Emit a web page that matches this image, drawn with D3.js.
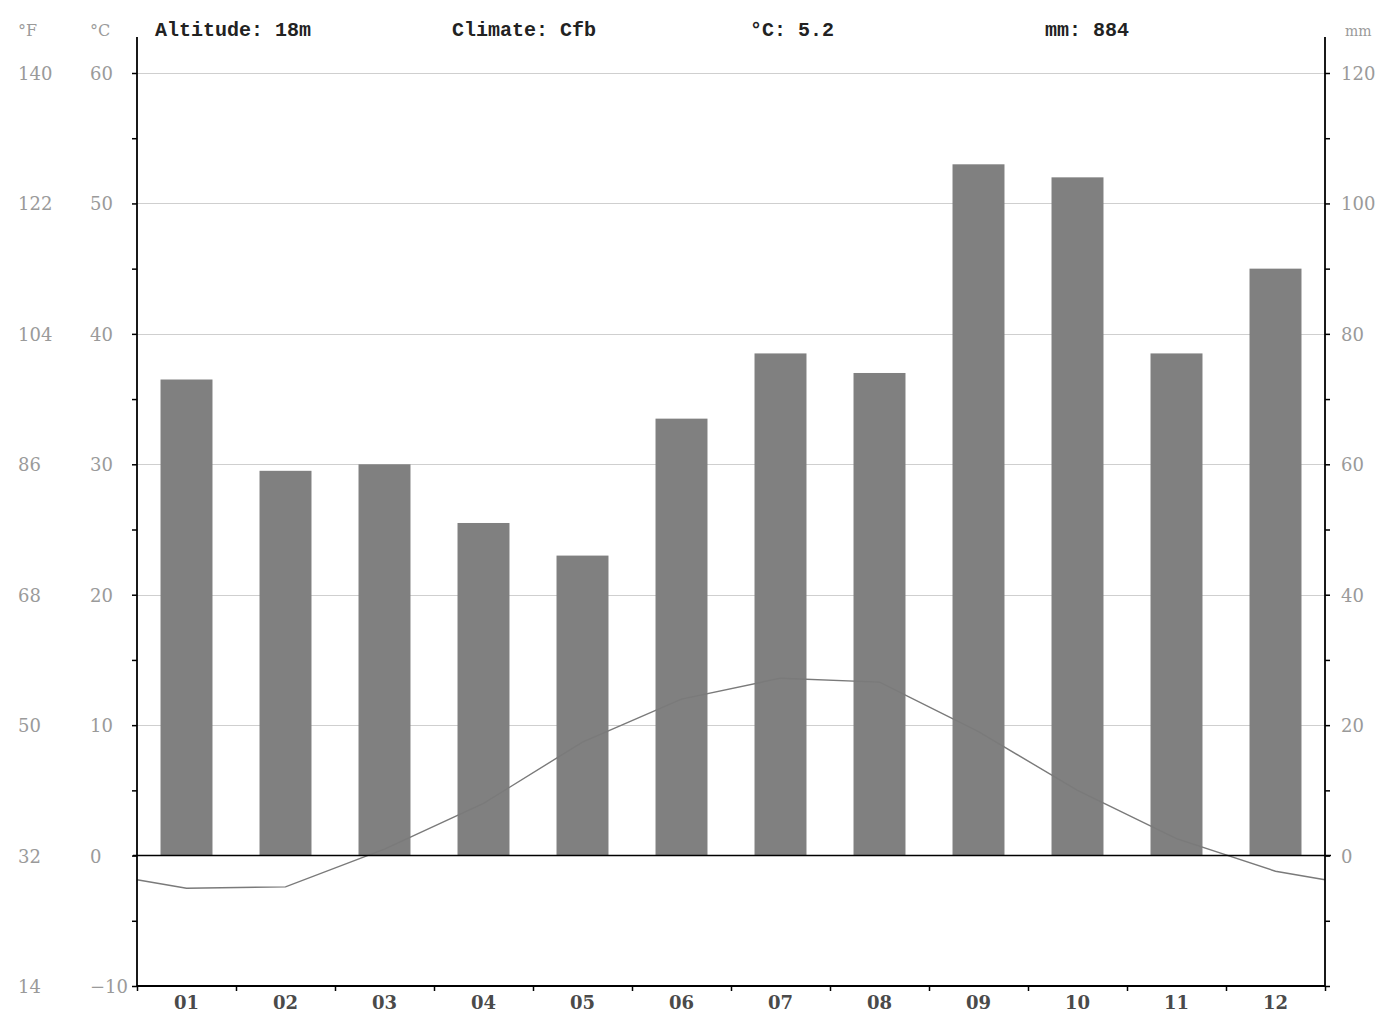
<!DOCTYPE html>
<html>
<head>
<meta charset="utf-8">
<script src="https://cdn.jsdelivr.net/npm/d3@7"></script>
<style>
  body { margin: 0; background: #fff; }
  .tick-lbl { font-family: 'DejaVu Serif', serif; font-size: 18px; fill: #9a9a9a; }
  .month-lbl { font-family: 'DejaVu Serif', serif; font-size: 18px; font-weight: bold; fill: #4a4a4a; }
  .head { font-family: 'Liberation Mono', monospace; font-size: 20px; font-weight: bold; fill: #222; }
</style>
</head>
<body>
<svg id="chart" width="1388" height="1014"></svg>
<script>
const months = ['01', '02', '03', '04', '05', '06', '07', '08', '09', '10', '11', '12'];
const precipitation = [73, 59, 60, 51, 46, 67, 77, 74, 106, 104, 77, 90];
const temperature = [-2.5, -2.4, 0.5, 4.0, 8.7, 12.0, 13.6, 13.3, 9.5, 5.0, 1.3, -1.2];
const celsiusTicks = [-10, 0, 10, 20, 30, 40, 50, 60];
const fahrenheitLabels = [14, 32, 50, 68, 86, 104, 122, 140];
const mmTicks = [0, 20, 40, 60, 80, 100, 120];
const header = ['Altitude: 18m', 'Climate: Cfb', '°C: 5.2', 'mm: 884'];

const plotLeft = 137, plotRight = 1325, plotTop = 73, plotBottom = 986, axisTop = 37;

const svg = d3.select('#chart');

const x = d3.scaleBand()
    .domain(months)
    .range([plotLeft, plotRight])
    .paddingInner(0.475)
    .paddingOuter(0.2375);

const yT = d3.scaleLinear().domain([-10, 60]).range([plotBottom, plotTop]);
const yP = d3.scaleLinear().domain([-20, 120]).range([plotBottom, plotTop]);

// grid lines
svg.append('g')
    .selectAll('line')
    .data(celsiusTicks.filter((d) => d > 0))
    .enter()
    .append('line')
    .attr('x1', plotLeft)
    .attr('x2', plotRight)
    .attr('y1', (d) => Math.round(yT(d)) + 0.5)
    .attr('y2', (d) => Math.round(yT(d)) + 0.5)
    .attr('stroke', '#cfcfcf')
    .attr('stroke-width', 1);

// precipitation bars
svg.append('g')
    .selectAll('rect')
    .data(months)
    .enter()
    .append('rect')
    .attr('x', (d) => x(d))
    .attr('width', x.bandwidth())
    .attr('y', (d, i) => yP(precipitation[i]))
    .attr('height', (d, i) => yP(0) - yP(precipitation[i]))
    .attr('fill', '#808080');

// temperature line, closed at both edges with the Dec/Jan mean
const edgeT = (temperature[0] + temperature[11]) / 2;
const linePts = [[plotLeft, edgeT]]
    .concat(months.map((m, i) => [x(m) + x.bandwidth() / 2, temperature[i]]))
    .concat([[plotRight, edgeT]]);

svg.append('path')
    .datum(linePts)
    .attr('fill', 'none')
    .attr('stroke', '#7a7a7a')
    .attr('stroke-width', 1.4)
    .attr('d', d3.line().x((d) => d[0]).y((d) => yT(d[1])));

// zero line
svg.append('line')
    .attr('x1', plotLeft - 4)
    .attr('x2', plotRight + 6)
    .attr('y1', yT(0))
    .attr('y2', yT(0))
    .attr('stroke', '#000')
    .attr('stroke-width', 1.5);

// axes
const axisL = d3.axisLeft(yT)
    .tickValues(d3.range(-10, 61, 5))
    .tickSize(5)
    .tickFormat('');
const gL = svg.append('g').attr('transform', `translate(${plotLeft},0)`).call(axisL);

const axisR = d3.axisRight(yP)
    .tickValues(d3.range(-20, 121, 10))
    .tickSize(5)
    .tickFormat('');
const gR = svg.append('g').attr('transform', `translate(${plotRight},0)`).call(axisR);

const xEdges = d3.scaleLinear().domain([0, 12]).range([plotLeft, plotRight]);
const axisB = d3.axisBottom(xEdges)
    .tickValues(d3.range(0, 13))
    .tickSize(5)
    .tickFormat('');
const gB = svg.append('g').attr('transform', `translate(0,${plotBottom})`).call(axisB);

[gL, gR, gB].forEach((g) => {
    g.select('.domain').remove();
    g.selectAll('line').attr('stroke', '#000').attr('stroke-width', 1.5);
});

svg.append('line')
    .attr('x1', plotLeft).attr('x2', plotLeft)
    .attr('y1', axisTop).attr('y2', plotBottom)
    .attr('stroke', '#000').attr('stroke-width', 1.8);
svg.append('line')
    .attr('x1', plotRight).attr('x2', plotRight)
    .attr('y1', axisTop).attr('y2', plotBottom)
    .attr('stroke', '#000').attr('stroke-width', 1.8);
svg.append('line')
    .attr('x1', plotLeft).attr('x2', plotRight)
    .attr('y1', plotBottom).attr('y2', plotBottom)
    .attr('stroke', '#000').attr('stroke-width', 1.8);

// tick labels
svg.append('g')
    .selectAll('text')
    .data(celsiusTicks)
    .enter()
    .append('text')
    .attr('class', 'tick-lbl')
    .attr('x', 90)
    .attr('y', (d) => yT(d) + 7)
    .text((d) => (d < 0 ? '\u2212' + Math.abs(d) : d));

svg.append('g')
    .selectAll('text')
    .data(fahrenheitLabels)
    .enter()
    .append('text')
    .attr('class', 'tick-lbl')
    .attr('x', 18)
    .attr('y', (d, i) => yT(celsiusTicks[i]) + 7)
    .text((d) => d);

svg.append('g')
    .selectAll('text')
    .data(mmTicks)
    .enter()
    .append('text')
    .attr('class', 'tick-lbl')
    .attr('x', 1341)
    .attr('y', (d) => yP(d) + 7)
    .text((d) => d);

svg.append('g')
    .selectAll('text')
    .data(months)
    .enter()
    .append('text')
    .attr('class', 'month-lbl')
    .attr('text-anchor', 'middle')
    .attr('x', (d) => x(d) + x.bandwidth() / 2)
    .attr('y', 1009)
    .text((d) => d);

// unit labels
svg.append('text').attr('class', 'tick-lbl').attr('x', 18).attr('y', 36).style('font-size', '16px').text('°F');
svg.append('text').attr('class', 'tick-lbl').attr('x', 90).attr('y', 36).style('font-size', '16px').text('°C');
svg.append('text').attr('class', 'tick-lbl').attr('x', 1345).attr('y', 36).style('font-size', '14px').text('mm');

// header
const headerX = [155, 452, 750, 1045];
svg.append('g')
    .selectAll('text')
    .data(header)
    .enter()
    .append('text')
    .attr('class', 'head')
    .attr('x', (d, i) => headerX[i])
    .attr('y', 36)
    .text((d) => d);
</script>
</body>
</html>
